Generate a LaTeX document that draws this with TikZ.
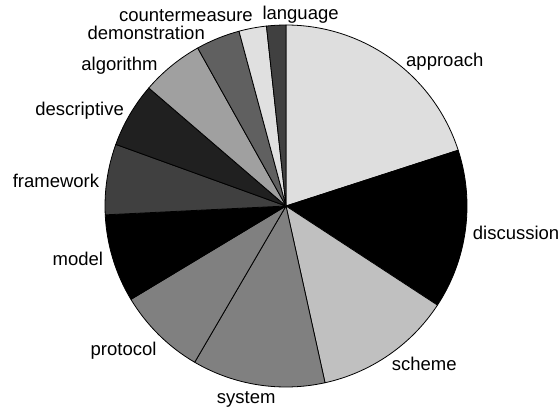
\documentclass[tikz,border=0pt]{standalone}
\usepackage{fontspec}
\setmainfont{Liberation Sans}
\begin{document}
\definecolor{gA}{HTML}{DEDEDE}
\definecolor{gB}{HTML}{000000}
\definecolor{gC}{HTML}{C0C0C0}
\definecolor{gD}{HTML}{808080}
\definecolor{gE}{HTML}{404040}
\definecolor{gF}{HTML}{202020}
\definecolor{gG}{HTML}{A0A0A0}
\definecolor{gH}{HTML}{606060}
\definecolor{gI}{HTML}{E0E0E0}
\begin{tikzpicture}[x=1bp,y=1bp,
  slice/.style={draw=black,line width=0.8bp,line join=round},
  lbl/.style={inner sep=0pt,font=\fontsize{18.5bp}{22bp}\selectfont,text=black}]
\useasboundingbox (0,0) rectangle (560,408);
\coordinate (c) at (286,202);
% slices: start and end angles measured clockwise from 12 o'clock
\foreach \a/\b/\col in {0/72.05/gA, 72.05/123.2/gB, 123.2/167.55/gC,
  167.55/210.3/gD, 210.3/238.95/gD, 238.95/267.2/gB, 267.2/289.9/gE,
  289.9/310.7/gF, 310.7/330.8/gG, 330.8/344.95/gH, 344.95/353.8/gI,
  353.8/360/gE}
  \filldraw[slice,fill=\col] (c) -- ++({90-\a}:181)
    arc[start angle={90-\a}, end angle={90-\b}, radius=181] -- cycle;
% labels
\node[lbl,anchor=base west] (approach) at (406,341.3) {approach};
\node[lbl,anchor=base west] (discussion) at (472.7,169) {discussion};
\node[lbl,anchor=base west] (scheme) at (391.7,37.3) {scheme};
\node[lbl,anchor=base west] (system) at (216.7,4.7) {system};
\node[lbl,anchor=base east] (protocol) at (156.7,53) {protocol};
\node[lbl,anchor=base east] (model) at (103.3,142.3) {model};
\node[lbl,anchor=base east] (framework) at (99.3,220.7) {framework};
\node[lbl,anchor=base east] (descriptive) at (124,293) {descriptive};
\node[lbl,anchor=base east] (algorithm) at (157.7,338) {algorithm};
\node[lbl,anchor=base east] (demonstration) at (205,369) {demonstration};
\node[lbl,anchor=base east] (countermeasure) at (253,386.5) {countermeasure};
\node[lbl,anchor=base west] (language) at (262.3,388.5) {language};
\end{tikzpicture}
\end{document}
